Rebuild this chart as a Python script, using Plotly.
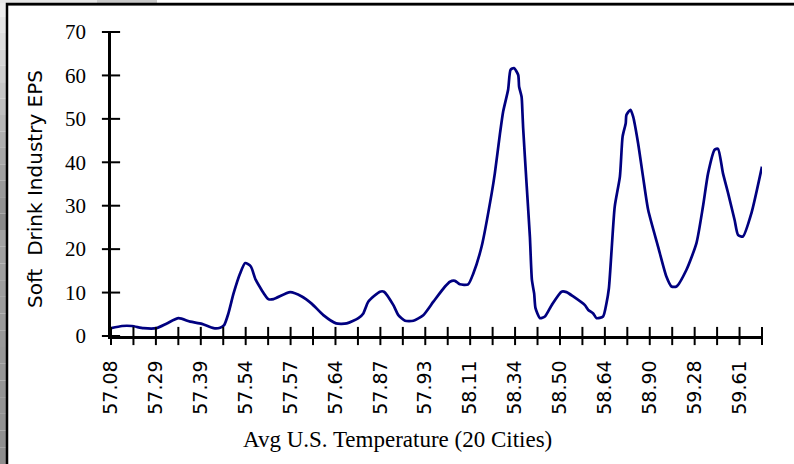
import plotly.graph_objects as go

# Category axis: 30 tick positions, every second one labelled
tick_labels = ["57.08", "57.29", "57.39", "57.54", "57.57", "57.64", "57.87", "57.93",
               "58.11", "58.34", "58.50", "58.64", "58.90", "59.28", "59.61"]
n_ticks = 30

# Curve samples: position along the category axis and EPS value
pos = [0.00, 0.49, 0.93, 1.45, 2.02, 2.49, 3.01, 3.53, 4.05, 4.57, 4.86, 5.04, 5.23, 5.46,
       5.75, 5.98, 6.23, 6.45, 7.01, 7.24, 7.98, 8.50, 8.95, 9.46, 10.03, 10.50, 11.02,
       11.24, 11.46, 11.98, 12.16, 12.58, 12.80, 13.10, 13.47, 13.91, 14.36, 14.88, 15.10,
       15.32, 15.54, 15.91, 16.14, 16.51, 16.96, 17.10, 17.33, 17.47, 17.69, 17.80, 17.95,
       18.14, 18.18, 18.29, 18.33, 18.36, 18.51, 18.66, 18.75, 18.85, 18.91, 19.11, 19.33,
       19.63, 20.07, 20.29, 20.59, 21.11, 21.26, 21.48, 21.63, 21.92, 22.07, 22.18, 22.30,
       22.44, 22.67, 22.79, 22.93, 22.96, 23.14, 23.26, 23.48, 23.70, 23.93, 24.37, 24.74,
       24.97, 25.19, 25.63, 26.08, 26.37, 26.60, 26.89, 27.04, 27.26, 27.49, 27.78, 27.93,
       28.15, 28.53, 29.00]
eps = [1.8, 2.3, 2.3, 1.8, 1.8, 2.9, 4.1, 3.3, 2.8, 1.8, 1.9, 2.5, 5.2, 9.8,
       14.4, 16.8, 16.0, 12.9, 8.5, 8.5, 10.1, 9.1, 7.4, 4.8, 2.9, 2.9, 4.1,
       5.2, 7.9, 10.2, 10.2, 7.1, 4.8, 3.5, 3.5, 4.8, 7.9, 11.4, 12.5,
       12.7, 11.9, 11.9, 14.4, 20.6, 32.9, 37.5, 46.7, 51.7, 56.7, 61.3, 61.7,
       60.1, 57.4, 55.1, 51.3, 47.9, 35.2, 22.9, 12.9, 9.8, 6.4, 4.1, 4.5,
       7.1, 10.2, 10.1, 9.1, 7.1, 6.0, 5.2, 4.1, 4.5, 7.5, 11.0, 19.8,
       29.8, 36.7, 45.9, 49.0, 50.9, 52.1, 50.5, 44.4, 36.7, 29.0, 20.6, 13.7,
       11.4, 11.4, 15.2, 21.4, 29.8, 37.5, 42.9, 43.1, 37.5, 32.9, 26.7, 23.3,
       22.9, 28.3, 39.0]

y_ticks = [0, 10, 20, 30, 40, 50, 60, 70]

W, H = 794, 464
ML, MR, MT, MB = 111, 32, 32, 128
PW, PH = W - ML - MR, H - MT - MB


def px_x(x):
    return (x - ML) / PW


def px_y(y):
    return (H - MB - y) / PH


tickvals = list(range(n_ticks))
ticktext = [tick_labels[i // 2] if i % 2 == 0 and i // 2 < len(tick_labels) else ""
            for i in tickvals]

fig = go.Figure()
fig.add_trace(go.Scatter(x=pos, y=eps, mode="lines",
                         line=dict(color="#000080", width=2.7, shape="spline", smoothing=0.6),
                         hoverinfo="skip", showlegend=False))

# Tick marks that cross the axis lines on both sides
fig.add_trace(go.Scatter(x=tickvals, y=[0] * len(tickvals), mode="markers", cliponaxis=False,
                         marker=dict(symbol="line-ns", size=13, line=dict(color="black", width=2)),
                         hoverinfo="skip", showlegend=False))
fig.add_trace(go.Scatter(x=[0] * len(y_ticks), y=y_ticks, mode="markers", cliponaxis=False,
                         marker=dict(symbol="line-ew", size=13, line=dict(color="black", width=2)),
                         hoverinfo="skip", showlegend=False))

fig.update_layout(
    width=W, height=H,
    margin=dict(l=ML, r=MR, t=MT, b=MB),
    paper_bgcolor="white", plot_bgcolor="white",
    xaxis=dict(range=[0, n_ticks - 1], tickmode="array", tickvals=tickvals, ticktext=ticktext,
               ticks="outside", ticklen=6, tickcolor="rgba(0,0,0,0)", tickangle=-90,
               showline=True, linecolor="black", linewidth=2.5,
               showgrid=False, zeroline=False,
               tickfont=dict(family="DejaVu Sans", size=19, color="black"),
               ticklabelstandoff=8),
    yaxis=dict(range=[0, 70], tickmode="array", tickvals=y_ticks,
               ticks="outside", ticklen=6, tickcolor="rgba(0,0,0,0)",
               showline=True, linecolor="black", linewidth=2.5,
               showgrid=False, zeroline=False,
               tickfont=dict(family="Liberation Serif", size=21, color="black"),
               ticklabelstandoff=12),
    showlegend=False,
)

fig.add_annotation(text="Avg U.S. Temperature (20 Cities)", xref="paper", yref="paper",
                   x=px_x(397), y=px_y(439), showarrow=False, xanchor="center", yanchor="middle",
                   font=dict(family="Liberation Serif", size=23, color="black"))
fig.add_annotation(text="Soft  Drink Industry EPS", xref="paper", yref="paper",
                   x=px_x(35), y=px_y(189), showarrow=False, textangle=-90,
                   xanchor="center", yanchor="middle",
                   font=dict(family="DejaVu Sans", size=20, color="black"))

# Window chrome around the chart: shaded left strip, top strip and black frame
shapes = []
strip_bands = [(0, 230, "#ececec", "#8a8a8a"), (230, 464, "#a2a2a2", "#8e8e8e")]
steps = 14
for y0, y1, c0, c1 in strip_bands:
    r0, r1 = int(c0[1:3], 16), int(c1[1:3], 16)
    for k in range(steps):
        ya = y0 + (y1 - y0) * k / steps
        yb = y0 + (y1 - y0) * (k + 1) / steps
        v = round(r0 + (r1 - r0) * k / (steps - 1))
        col = f"rgb({v},{v},{v})"
        shapes.append(dict(type="rect", xref="paper", yref="paper", x0=px_x(0), x1=px_x(6),
                           y0=px_y(yb), y1=px_y(ya), fillcolor=col, line_width=0, layer="below"))
shapes.append(dict(type="rect", xref="paper", yref="paper", x0=px_x(0), x1=px_x(97),
                   y0=px_y(3), y1=px_y(0), fillcolor="#e6e6e6", line_width=0))
shapes.append(dict(type="rect", xref="paper", yref="paper", x0=px_x(97), x1=px_x(157),
                   y0=px_y(3), y1=px_y(0), fillcolor="#c8c8c8", line_width=0))
shapes.append(dict(type="rect", xref="paper", yref="paper", x0=px_x(8), x1=px_x(794),
                   y0=px_y(6), y1=px_y(5), fillcolor="#8a8a8a", line_width=0))
shapes.append(dict(type="path", xref="paper", yref="paper",
                   path=f"M {px_x(7)},{px_y(464)} L {px_x(7)},{px_y(4)} L {px_x(794)},{px_y(4)}",
                   line=dict(color="black", width=2.5)))
fig.update_layout(shapes=shapes)

fig.write_html("out.html")
